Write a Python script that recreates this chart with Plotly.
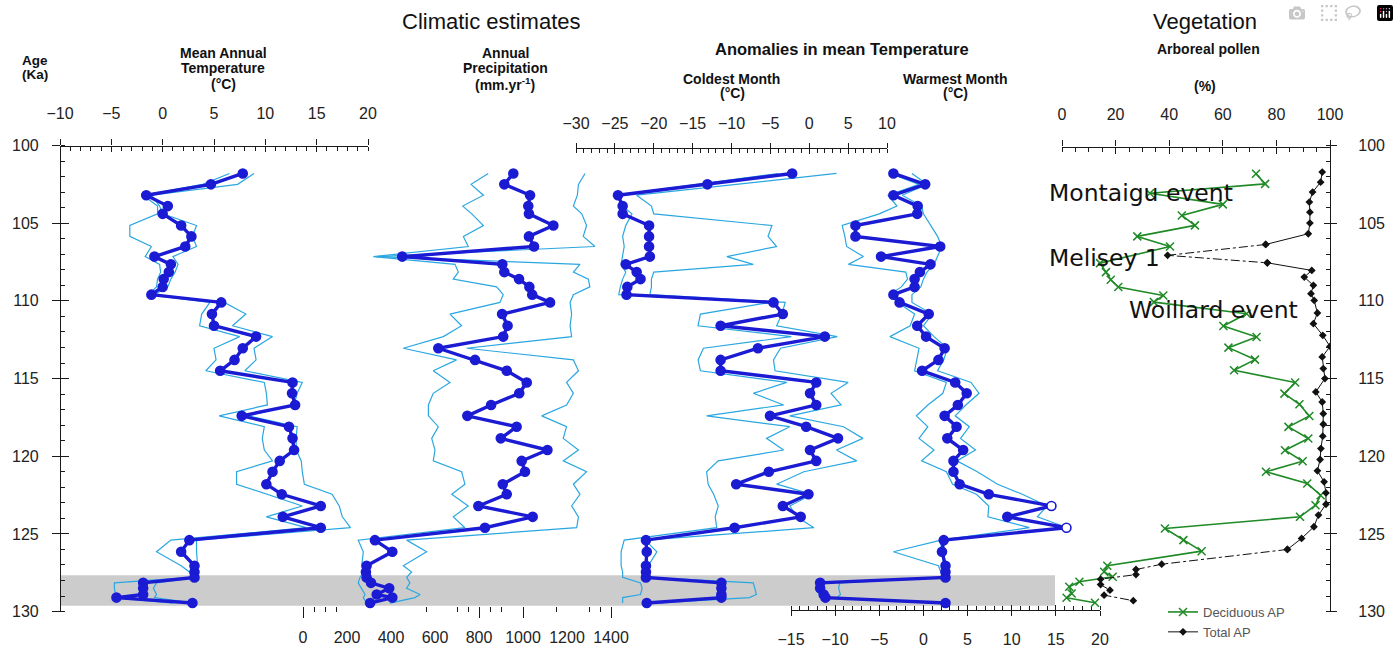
import plotly.graph_objects as go

W, H = 1399, 648

# ---------------- data ----------------
ages = [101.8, 102.5, 103.2, 103.9, 104.4, 105.15, 105.85, 106.5, 107.15, 107.65,
        108.15, 108.6, 109.1, 109.6, 110.1, 110.85, 111.6, 112.3, 113.05, 113.8,
        114.5, 115.25, 115.95, 116.7, 117.4, 118.1, 118.85, 119.6, 120.3, 121.0,
        121.8, 122.45, 123.2, 123.9, 124.6, 125.4, 126.15, 127.05, 127.45, 127.8,
        128.15, 128.5, 128.9, 129.1, 129.45]

mat_mean = [7.8, 4.7, -1.6, 0.5, 0.0, 1.8, 2.8, 2.2, -0.8, 0.8, 0.6, 0.1, 0.0, -1.1, 5.7,
            4.8, 5.0, 9.1, 7.8, 7.0, 5.6, 12.65, 12.6, 12.9, 7.7, 12.3, 12.65, 12.8, 11.4, 10.7,
            10.1, 11.6, 15.4, 11.7, 15.4, 2.6, 1.8, 3.1, 3.1, 3.1, -1.9, -1.9, -1.9, -4.5, 2.9]
mat_lo = [6.5, 3.9, -1.9, -0.5, -0.5, -3.2, -3.2, -1.1, -1.7, -0.3, -0.2, -0.5, -0.6, -1.4, 4.6,
          3.8, 3.6, 7.5, 5.0, 5.2, 4.2, 9.9, 10.1, 10.2, 5.5, 9.9, 9.7, 9.9, 10.7, 7.2,
          7.2, 10.1, 13.6, 10.1, 14.0, 0.8, -0.6, 1.8, 2.6, 2.8, -4.7, -4.7, -4.6, -4.7, 1.0]
mat_hi = [8.9, 7.3, -1.1, -0.3, 0.0, 3.3, 2.9, 3.3, 1.0, 1.5, 1.2, 0.8, 0.5, -0.8, 6.0,
          8.1, 6.8, 10.7, 8.9, 9.1, 8.0, 13.6, 13.1, 12.8, 8.3, 13.1, 13.0, 13.0, 13.5, 13.6,
          13.8, 16.5, 17.2, 17.5, 18.3, 3.3, 3.3, 3.4, 3.3, 3.3, -0.6, -0.9, -0.6, -0.8, 3.0]

prec_mean = [956, 915, 1032, 1024, 1027, 1138, 1027, 1050, 451, 906, 915, 982, 1029, 1042, 1123,
             905, 930, 910, 615, 782, 926, 1017, 983, 855, 747, 971, 899, 1111, 994, 1009,
             908, 926, 797, 1044, 827, 327, 406, 289, 286, 289, 309, 392, 335, 406, 305]
prec_lo = [842, 764, 820, 726, 767, 820, 729, 751, 320, 691, 706, 683, 880, 910, 895,
           668, 721, 638, 456, 698, 592, 668, 592, 570, 570, 615, 585, 600, 592, 721,
           736, 676, 751, 683, 736, 251, 274, 267, 274, 259, 251, 267, 282, 274, 289]
prec_hi = [1282, 1252, 1247, 1229, 1267, 1289, 1274, 1327, 335, 1259, 1229, 1297, 1304, 1229, 1214,
           1221, 1214, 1221, 744, 1229, 1252, 1198, 1229, 1198, 1085, 1198, 1183, 1252, 1183, 1289,
           1229, 1259, 1221, 1252, 1244, 471, 562, 456, 494, 471, 486, 471, 532, 509, 395]

cold_mean = [-2.2, -13.1, -24.6, -24.0, -24.0, -20.6, -20.6, -20.6, -20.5, -23.6, -22.2, -21.7,
             -23.4, -23.5, -4.6, -3.4, -11.4, 2.0, -6.6, -11.4, -11.4, 0.9, 0.1, 0.9, -5.05,
             -0.4, 3.7, 0.1, 0.9, -5.2, -9.4, -0.1, -3.4, -1.1, -9.6, -21.0, -20.9, -21.0,
             -21.0, -21.0, -11.3, -11.3, -11.3, -11.3, -20.9]
cold_lo = [-4.0, -14.5, -24.8, -24.0, -22.8, -23.6, -24.0, -23.8, -24.0, -24.2, -23.6, -24.0,
           -24.3, -24.5, -5.0, -14.0, -14.3, -2.3, -13.6, -14.3, -14.0, -2.9, -7.2, -3.3, -13.2,
           -2.5, -5.5, -3.3, -11.7, -13.2, -13.0, -12.3, -11.7, -12.1, -11.9, -23.8, -24.2,
           -24.2, -24.0, -24.0, -21.7, -21.5, -21.7, -24.0, -24.0]
cold_hi = [3.5, -9.0, -22.2, -20.3, -20.0, -4.8, -5.3, -4.2, -10.6, -7.2, -20.0, -20.3, -20.3,
           -20.5, -3.1, -3.5, -4.2, 3.6, -3.7, -4.6, -4.4, 5.0, 2.8, 4.1, -2.5, 4.4, 6.9, 3.5,
           6.1, -0.7, -4.2, 0.4, -2.5, -1.6, 0.6, -21.1, -19.6, -20.7, -20.9, -20.9, -7.2,
           -7.0, -6.8, -7.7, -19.8]

warm_mean = [-3.4, 0.2, -3.4, -0.65, -0.7, -7.7, -7.7, 1.9, -4.8, 0.8, -0.4, -1.0, -1.0, -3.4,
             -2.7, 0.6, -0.7, 0.3, 2.4, 1.7, -0.15, 3.6, 4.9, 3.9, 2.4, 3.75, 2.7, 4.5, 3.4, 3.4,
             4.1, 7.4, 14.5, 9.5, 16.2, 2.3, 2.1, 2.5, 2.5, 2.5, -11.7, -11.7, -11.3, -11.1, 2.5]
warm_lo = [-3.8, -0.5, -4.0, -3.0, -5.0, -9.2, -8.9, -8.7, -6.8, -8.5, -2.0, -1.8, -2.5, -3.8,
           -2.9, -1.0, -1.5, -3.8, -0.5, -0.8, -1.0, 2.6, 2.2, 0.5, -0.8, 0.5, -0.5, 1.2, -0.2,
           2.6, 3.3, 6.0, 7.4, 7.3, 12.0, 2.0, -3.4, 1.7, 2.0, 2.2, -12.0, -12.0, -11.8, -11.5, 2.0]
warm_hi = [-1.3, 0.4, -2.4, -0.2, 0.0, 0.8, 1.6, 2.1, 1.6, 1.2, 0.4, 0.0, -0.3, -1.3, -1.3,
           1.0, 0.0, 1.2, 2.7, 2.3, 1.6, 5.4, 6.3, 4.8, 3.6, 5.2, 4.2, 5.9, 3.8, 6.1, 8.4, 11.2,
           14.0, 12.9, 16.3, 1.9, 2.1, 2.3, 2.5, 2.6, -9.5, -9.6, -9.4, -9.8, 2.8]
warm_open_ages = [123.2, 124.6]

dec_ages = [101.82, 102.47, 103.07, 103.79, 104.5, 105.14, 105.85, 106.5, 107.57, 108.15,
            108.64, 109.11, 109.65, 110.08, 110.83, 111.62, 112.33, 113.01, 113.78, 114.47,
            115.26, 115.97, 116.66, 117.41, 118.11, 118.86, 119.61, 120.32, 121.0, 121.76,
            122.51, 123.15, 123.9, 124.65, 125.4, 126.11, 127.05, 127.44, 127.76, 128.08,
            128.4, 128.83, 129.11, 129.43]
dec_ap = [72.4, 75.8, 32.8, 60.0, 44.7, 49.6, 28.1, 40.3, 14.2, 16.4, 18.2, 21.0, 37.8, 34.3,
          68.9, 60.2, 72.6, 62.1, 72.0, 64.2, 87.0, 83.0, 88.6, 92.3, 84.5, 91.9, 83.2, 89.8,
          76.1, 91.5, 96.5, 94.6, 88.8, 38.4, 45.3, 52.1, 16.9, 15.7, 18.9, 6.5, 2.7, 3.6, 1.7, 12.3]

tot_ages = [101.71, 102.36, 103.0, 103.64, 104.29, 104.99, 105.68, 106.37, 107.07, 107.55,
            108.04, 108.47, 109.0, 109.54, 109.97, 110.78, 111.47, 112.22, 112.93, 113.61,
            114.36, 115.0, 115.86, 116.51, 117.26, 117.94, 118.71, 119.51, 120.21, 120.94,
            121.65, 122.36, 123.09, 123.79, 124.54, 125.29, 126.0, 126.95, 127.29, 127.62,
            127.91, 128.26, 128.62, 128.94, 129.3]
tot_ap = [97.1, 96.5, 93.5, 92.3, 92.5, 92.5, 91.9, 76.0, 39.4, 76.6, 93.2, 90.4, 93.8, 92.9,
          94.1, 95.3, 93.8, 97.3, 100.0, 97.1, 97.5, 98.1, 94.7, 97.1, 97.5, 97.5, 97.3, 96.6,
          96.3, 95.3, 97.8, 98.5, 98.5, 95.7, 94.0, 89.4, 84.1, 37.2, 27.6, 27.6, 14.4, 14.4,
          17.9, 15.7, 26.6]
# index ranges of the Total AP curve drawn dash-dotted in the original
tot_dashed = [(7, 9), (36, 44)]

age_ticks = list(range(100, 131, 5))
prec_labels = list(range(0, 1401, 200))
prec_major = [0, 800, 1000, 1400]
prec_minor = [50, 100, 150, 560, 700, 750, 850, 900, 1150, 1300, 1350]
event_labels = ["Montaigu event", "Melisey 1", "Woillard event"]
highlight_band = (127.66, 129.62)

# ---------------- helpers ----------------
def X(px):
    return px / W


def Y(py):
    return 1 - py / H


Y_TOP, Y_BOT = 145.5, 611.6
YDOM = [Y(Y_BOT), Y(Y_TOP)]

DB = '#1b1bd3'
LB = '#2aa7e1'
GREEN = '#1f8a26'
BLK = '#111111'
AX = '#1a1a1a'
FONT = 'Liberation Sans, Arial, Helvetica, sans-serif'
tickfont = dict(family=FONT, size=16, color='#222')

fig = go.Figure()


def climate(xa, lo, hi, mean, open_ages=()):
    for s in (lo, hi):
        fig.add_trace(go.Scatter(x=s, y=ages, xaxis=xa, yaxis='y', mode='lines',
                                 line=dict(color=LB, width=1.2), showlegend=False,
                                 hoverinfo='skip'))
    fills = ['white' if a in open_ages else DB for a in ages]
    fig.add_trace(go.Scatter(x=mean, y=ages, xaxis=xa, yaxis='y', mode='lines+markers',
                             line=dict(color=DB, width=3.4),
                             marker=dict(color=fills, size=9, symbol='circle',
                                         line=dict(color=DB, width=1.6)),
                             showlegend=False))


climate('x', mat_lo, mat_hi, mat_mean)
climate('x2', prec_lo, prec_hi, prec_mean)
climate('x3', cold_lo, cold_hi, cold_mean)
climate('x4', warm_lo, warm_hi, warm_mean, warm_open_ages)

# Vegetation panel
fig.add_trace(go.Scatter(x=dec_ap, y=dec_ages, xaxis='x5', yaxis='y', mode='lines+markers',
                         name='Deciduous AP', line=dict(color=GREEN, width=1.6),
                         marker=dict(symbol='x-thin', size=8, line=dict(color=GREEN, width=1.5))))

bounds = []
start = 0
for a, b in tot_dashed:
    if a > start:
        bounds.append((start, a, 'solid'))
    bounds.append((a, b, 'dashdot'))
    start = b
if start < len(tot_ap) - 1:
    bounds.append((start, len(tot_ap) - 1, 'solid'))
first = True
for a, b, d in bounds:
    fig.add_trace(go.Scatter(x=tot_ap[a:b + 1], y=tot_ages[a:b + 1], xaxis='x5', yaxis='y',
                             mode='lines+markers', name='Total AP', showlegend=first,
                             line=dict(color=BLK, width=1, dash=d),
                             marker=dict(symbol='diamond', size=6, color=BLK)))
    first = False

# empty traces so that the tick-only overlay axes are rendered
for xa, ya in [('x6', 'y'), ('x7', 'y'), ('x8', 'y'), ('x9', 'y'), ('x10', 'y'),
               ('x', 'y2'), ('x', 'y3'), ('x', 'y4')]:
    fig.add_trace(go.Scatter(x=[None], y=[None], xaxis=xa, yaxis=ya, showlegend=False,
                             hoverinfo='skip', mode='markers'))

base = dict(showgrid=False, zeroline=False, fixedrange=True, tickfont=tickfont,
            tickcolor=AX, tickwidth=1.2, linecolor=AX, linewidth=1.2, anchor='free',
            automargin=False)


def top_axis(domain, rng, pos, major, minor_dt, ticklen, standoff, side='top'):
    return dict(base, domain=domain, range=rng, position=pos, side=side, showline=True,
                tickmode='array', tickvals=major, ticks='outside', ticklen=ticklen,
                ticklabelstandoff=standoff,
                minor=dict(tickmode='linear', tick0=rng[0], dtick=minor_dt, ticks='inside',
                           ticklen=4, tickcolor=AX, tickwidth=1))


def overlay_axis(over, rng, pos, major, ticklen, side):
    return dict(base, overlaying=over, range=rng, position=pos, side=side, showline=False,
                tickmode='array', tickvals=major, ticks='inside', ticklen=ticklen,
                showticklabels=False)


mat_major = list(range(-10, 21, 5))
cold_major = list(range(-30, 11, 5))
warm_major = list(range(-15, 21, 5))
pol_major = list(range(0, 101, 20))

layout_axes = dict(
    xaxis=top_axis([X(60), X(368)], [-10, 20], Y(145.5), mat_major, 1, 6, 14),
    xaxis7=overlay_axis('x', [-10, 20], Y(145.5), mat_major, 5, 'top'),
    xaxis3=top_axis([X(576), X(887)], [-30, 10], Y(148), cold_major, 1, 5, 8),
    xaxis8=overlay_axis('x3', [-30, 10], Y(148), cold_major, 5, 'top'),
    xaxis5=top_axis([X(1062), X(1330)], [0, 100], Y(146.5), pol_major, 5, 6, 14),
    xaxis9=overlay_axis('x5', [0, 100], Y(146.5), pol_major, 6, 'top'),
    xaxis4=top_axis([X(791), X(1100)], [-15, 20], Y(610), warm_major, 1, 5, 10, side='bottom'),
    xaxis10=overlay_axis('x4', [-15, 20], Y(610), warm_major, 5, 'bottom'),
    xaxis2=dict(base, domain=[X(303), X(611)], range=[0, 1400], position=Y(606), side='bottom',
                showline=False, tickmode='array', tickvals=prec_major, ticks='outside',
                ticklen=11, showticklabels=False,
                minor=dict(tickmode='array', tickvals=prec_minor, ticks='outside', ticklen=5,
                           tickcolor=AX, tickwidth=1)),
    xaxis6=dict(base, overlaying='x2', range=[0, 1400], position=Y(606), side='bottom',
                showline=False, tickmode='array', tickvals=prec_labels, ticks='',
                ticklabelstandoff=20),
    yaxis=dict(base, domain=YDOM, range=[130, 100], position=X(60), side='left', showline=True,
               tickmode='array', tickvals=age_ticks, ticks='outside', ticklen=8,
               ticklabelstandoff=10,
               minor=dict(tickmode='linear', tick0=100, dtick=1, ticks='inside', ticklen=4,
                          tickcolor=AX, tickwidth=1)),
    yaxis3=dict(base, overlaying='y', range=[130, 100], position=X(60), side='left',
                showline=False, tickmode='array', tickvals=age_ticks, ticks='inside', ticklen=8,
                showticklabels=False),
    yaxis2=dict(base, overlaying='y', range=[130, 100], position=X(1330), side='right',
                showline=True, tickmode='array', tickvals=age_ticks, ticks='outside', ticklen=6,
                ticklabelstandoff=18,
                minor=dict(tickmode='linear', tick0=100, dtick=1, ticks='inside', ticklen=4,
                           tickcolor=AX, tickwidth=1)),
    yaxis4=dict(base, overlaying='y', range=[130, 100], position=X(1330), side='right',
                showline=False, tickmode='array', tickvals=age_ticks, ticks='inside', ticklen=6,
                showticklabels=False),
)

# ---------------- annotations ----------------
ann = []


def text(x, y, t, size=14, bold=False, family=FONT, xanchor='center', color='#111'):
    ann.append(dict(x=X(x), y=Y(y), xref='paper', yref='paper', text=f"<b>{t}</b>" if bold else t,
                    showarrow=False, xanchor=xanchor, yanchor='middle',
                    font=dict(family=family, size=size, color=color)))


text(491, 21, "Climatic estimates", size=22)
text(1205, 21, "Vegetation", size=22)
text(35, 60.5, "Age", size=13.5, bold=True)
text(35, 74.5, "(Ka)", size=13.5, bold=True)
text(223, 53, "Mean Annual", bold=True)
text(223, 68.5, "Temperature", bold=True)
text(223, 84, "(°C)", bold=True)
text(505, 53, "Annual", bold=True)
text(505, 68.5, "Precipitation", bold=True)
text(505, 84, "(mm.yr<sup>-1</sup>)", bold=True)
text(842, 49, "Anomalies in mean Temperature", size=16.5, bold=True)
text(731, 78.5, "Coldest Month", bold=True)
text(732, 92.5, "(°C)", bold=True)
text(955, 78.5, "Warmest Month", bold=True)
text(955, 92.5, "(°C)", bold=True)
text(1208, 49, "Arboreal pollen", bold=True)
text(1205, 86, "(%)", bold=True)
EV = 'DejaVu Sans, Verdana, sans-serif'
for (ex, ey), lab in zip([(1047, 193), (1047, 258), (1127, 310)], event_labels):
    text(ex, ey, lab, size=23.5, family=EV, xanchor='left', color='#111')

shapes = [dict(type='rect', xref='paper', yref='y', x0=X(61), x1=X(1055),
               y0=highlight_band[0], y1=highlight_band[1], fillcolor='#cccccc',
               line=dict(width=0), layer='below')]

fig.update_layout(
    width=W, height=H, autosize=False,
    margin=dict(l=0, r=0, t=0, b=0, pad=0, autoexpand=False),
    paper_bgcolor='white', plot_bgcolor='rgba(0,0,0,0)',
    annotations=ann, shapes=shapes,
    showlegend=True,
    legend=dict(x=X(1163), y=Y(597), xanchor='left', yanchor='top', bgcolor='rgba(0,0,0,0)',
                font=dict(family=FONT, size=13, color='#555'), itemwidth=30,
                tracegroupgap=0),
    **layout_axes,
)

fig.write_html("out.html", post_script="document.body.style.margin='0';")
